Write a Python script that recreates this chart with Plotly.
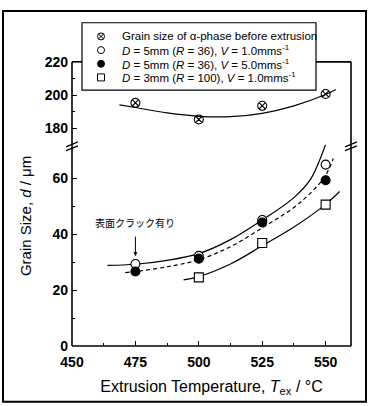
import plotly.graph_objects as go

# ---------------- data ----------------
temps = [475, 500, 525, 550]
alpha_before = [195.3, 185.3, 193.5, 200.6]
d5_v1 = [29.3, 32.2, 45.0, 64.8]
d5_v5 = [26.6, 31.2, 44.1, 59.2]
temps_d3 = [500, 525, 550]
d3_v1 = [24.5, 36.8, 50.5]

alpha_fit_x = [468.7, 475, 487.5, 500, 512.5, 525, 537.5, 550, 554]
alpha_fit_y = [194.1, 192.5, 189.2, 187.2, 187.0, 189.0, 193.5, 200.3, 203.3]
fit_d5v1_x = [464, 475, 487.5, 500, 512.5, 525, 537.5, 544, 550, 552.5]
fit_d5v1_y = [28.8, 29.2, 30.6, 33.0, 38.0, 45.0, 53.0, 59.5, 72.0, 79.0]
fit_d5v5_x = [471, 475, 487.5, 500, 512.5, 525, 537.5, 545, 550, 553]
fit_d5v5_y = [26.2, 26.6, 28.3, 30.8, 35.5, 42.2, 49.5, 55.5, 61.0, 67.0]
fit_d3_x = [494, 500, 512.5, 525, 537.5, 550, 555.5]
fit_d3_y = [23.6, 24.8, 29.3, 35.8, 42.5, 50.6, 55.2]

x_ticks = [450, 475, 500, 525, 550]
x_minor = [462.5, 487.5, 512.5, 537.5]
low_ticks = [0, 20, 40, 60]
low_minor = [10, 30, 50]
up_ticks = [180, 200, 220]
up_minor = [190, 210]

legend_names = [
    "Grain size of α-phase before extrusion",
    "<i>D</i> = 5mm (<i>R</i> = 36), <i>V</i> = 1.0mms<sup>-1</sup>",
    "<i>D</i> = 5mm (<i>R</i> = 36), <i>V</i> = 5.0mms<sup>-1</sup>",
    "<i>D</i> = 3mm (<i>R</i> = 100), <i>V</i> = 1.0mms<sup>-1</sup>",
]
crack_label = "表面クラック有り"

# ---------------- layout helpers ----------------
FONT = "Liberation Sans, Arial, sans-serif"
W, H = 369, 406
L, R, T, B = 72, 18, 5, 60
PW, PH = W - L - R, H - T - B
PLOT_TOP = 55          # pixel row of 220
PLOT_BOT = H - B       # pixel row of 0
LOW_TOP = 117          # top of lower panel domain
BREAK = 140            # break position
LOW_SCALE = (PLOT_BOT - 174) / 60.0   # px per unit, lower panel


def px(xp):
    return (xp - L) / PW


def py(yp):
    return (H - B - yp) / PH


def low_val(yp):
    return (PLOT_BOT - yp) / LOW_SCALE


fig = go.Figure()

line_style = dict(color="black", width=1.2)
fig.add_trace(go.Scatter(x=alpha_fit_x, y=alpha_fit_y, mode="lines", line=dict(**line_style, shape="spline"),
                         yaxis="y2", showlegend=False, hoverinfo="skip"))
fig.add_trace(go.Scatter(x=fit_d5v1_x, y=fit_d5v1_y, mode="lines", line=dict(**line_style, shape="spline"),
                         showlegend=False, hoverinfo="skip"))
fig.add_trace(go.Scatter(x=fit_d5v5_x, y=fit_d5v5_y, mode="lines",
                         line=dict(color="black", width=1.2, dash="4px,3px", shape="spline"),
                         showlegend=False, hoverinfo="skip"))
fig.add_trace(go.Scatter(x=fit_d3_x, y=fit_d3_y, mode="lines", line=dict(**line_style, shape="spline"),
                         showlegend=False, hoverinfo="skip"))

mk_line = dict(color="black", width=1.1)
styles = [
    dict(symbol="circle-x-open", color="black"),
    dict(symbol="circle", color="white"),
    dict(symbol="circle", color="black"),
    dict(symbol="square", color="white"),
]
series = [(temps, alpha_before, "y2"), (temps, d5_v1, "y"), (temps, d5_v5, "y"), (temps_d3, d3_v1, "y")]
for (xs, ys, ya), st, nm in zip(series, styles, legend_names):
    fig.add_trace(go.Scatter(x=xs, y=ys, mode="markers", name=nm, yaxis=ya, showlegend=False,
                             marker=dict(size=9, line=mk_line, **st), cliponaxis=False))

# hand-made legend on its own hidden axes
legend_rows = list(range(1, len(legend_names) + 1))
for row, st in zip(legend_rows, styles):
    fig.add_trace(go.Scatter(x=[19], y=[row], mode="markers", xaxis="x2", yaxis="y3", showlegend=False,
                             hoverinfo="skip", marker=dict(size=7, line=dict(color="black", width=1), **st)))
for row, nm in zip(legend_rows, legend_names):
    fig.add_annotation(text=nm, x=38, y=row, xref="x2", yref="y3", xanchor="left", yanchor="middle",
                       showarrow=False, font=dict(family=FONT, size=11.5, color="black"))

tickfont = dict(family=FONT, size=14, color="black", weight="bold")

fig.update_layout(
    width=W, height=H,
    margin=dict(l=L, r=R, t=T, b=B),
    paper_bgcolor="white", plot_bgcolor="white",
    font=dict(family=FONT, color="black"),
    showlegend=False,
    xaxis=dict(range=[450, 560], tickvals=x_ticks, ticks="inside", ticklen=5, tickwidth=1.3,
               tickcolor="black", tickfont=tickfont, showline=False, showgrid=False, zeroline=False,
               ticklabelstandoff=6,
               minor=dict(tickvals=x_minor, ticks="inside", ticklen=3, tickcolor="black", tickwidth=1),
               anchor="y", domain=[0, 1],
               title=dict(text="Extrusion Temperature, <i>T</i><sub>ex</sub> / °C",
                          font=dict(family=FONT, size=16, color="black"), standoff=11)),
    yaxis=dict(range=[0, low_val(LOW_TOP)], domain=[0, py(LOW_TOP)], tickvals=low_ticks, ticks="inside",
               ticklen=5, tickwidth=1.3, tickcolor="black", tickfont=tickfont, showline=False,
               showgrid=False, zeroline=False, ticklabelstandoff=3,
               minor=dict(tickvals=low_minor, ticks="inside", ticklen=3, tickcolor="black", tickwidth=1)),
    yaxis2=dict(range=[170, 220], domain=[py(BREAK), py(PLOT_TOP)], tickvals=up_ticks, ticks="inside",
                ticklen=5, tickwidth=1.3, tickcolor="black", tickfont=tickfont, showline=False,
                showgrid=False, zeroline=False, anchor="x", ticklabelstandoff=3,
                minor=dict(tickvals=up_minor, ticks="inside", ticklen=3, tickcolor="black", tickwidth=1)),
    xaxis2=dict(range=[0, 234], domain=[px(82), px(316)], visible=False, anchor="y3"),
    yaxis3=dict(range=[4.93, 0], domain=[py(84), py(15)], visible=False, anchor="x2"),
)

shapes = []
fw = 1.6
frame = dict(color="black", width=fw)
y_top = py(PLOT_TOP)
shapes.append(dict(type="line", xref="paper", yref="paper", x0=0, x1=0, y0=0, y1=y_top, line=frame))
shapes.append(dict(type="line", xref="paper", yref="paper", x0=1, x1=1, y0=0, y1=y_top, line=frame))
shapes.append(dict(type="line", xref="paper", yref="paper", x0=0, x1=1, y0=0, y1=0, line=frame))
shapes.append(dict(type="line", xref="paper", yref="paper", x0=0, x1=px(82), y0=y_top, y1=y_top, line=frame))
shapes.append(dict(type="line", xref="paper", yref="paper", x0=px(316), x1=1, y0=y_top, y1=y_top, line=frame))
# legend box
shapes.append(dict(type="rect", xref="paper", yref="paper", x0=px(82), x1=px(316), y0=py(84), y1=py(15),
                   line=dict(color="black", width=1.2)))
# axis breaks
for xb in (L, L + PW):
    for dy in (0, 4):
        shapes.append(dict(type="line", xref="paper", yref="paper",
                           x0=px(xb - 6), y0=py(BREAK + 2 + dy), x1=px(xb + 6), y1=py(BREAK - 3 + dy),
                           line=dict(color="black", width=1.3)))
# outer border
shapes.append(dict(type="rect", xref="paper", yref="paper", x0=px(3), x1=px(366), y0=py(403), y1=py(3),
                   line=dict(color="black", width=2)))
fig.update_layout(shapes=shapes)

fig.add_annotation(text="Grain Size, <i>d</i> / μm", xref="paper", yref="paper",
                   x=px(25), y=py(213), xanchor="center", yanchor="middle", textangle=-90, showarrow=False,
                   font=dict(family=FONT, size=15, color="black"))
fig.add_annotation(text=crack_label, x=475, y=low_val(220), xref="x", yref="y", xanchor="center",
                   yanchor="middle", showarrow=False,
                   font=dict(family="Noto Sans CJK JP", size=10, color="black"))
fig.add_annotation(text="", x=475, y=low_val(254), xref="x", yref="y",
                   showarrow=True, ax=0, ay=-21, arrowhead=2, arrowsize=0.8, arrowwidth=1, arrowcolor="black")

fig.write_html("out.html")
